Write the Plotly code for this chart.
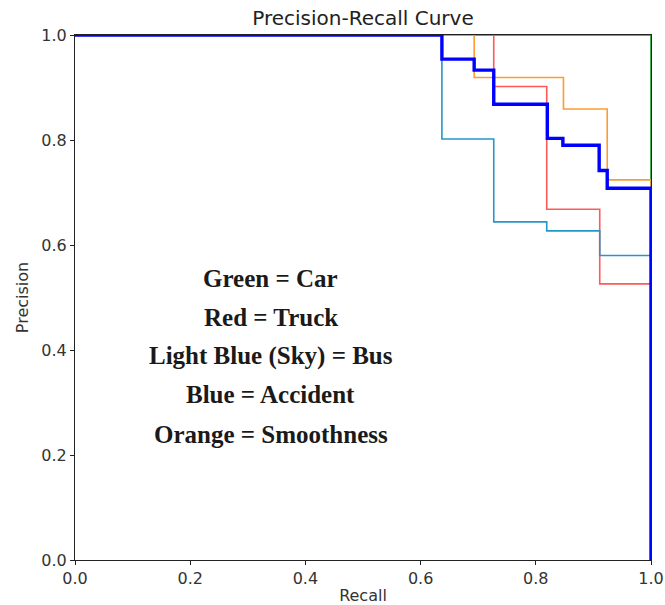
import plotly.graph_objects as go

# Step vertices (recall, precision) per class
car_recall = [0.0, 1.0, 1.0]
car_precision = [1.0, 1.0, 0.0]

truck_recall = [0.0, 0.727, 0.819, 0.911, 1.0, 1.0]
truck_precision = [1.0, 0.902, 0.668, 0.526, 0.526, 0.0]

bus_recall = [0.0, 0.637, 0.727, 0.819, 0.911, 1.0, 1.0]
bus_precision = [1.0, 0.802, 0.644, 0.627, 0.580, 0.580, 0.0]

smooth_recall = [0.0, 0.693, 0.848, 0.924, 1.0, 1.0]
smooth_precision = [1.0, 0.919, 0.859, 0.724, 0.724, 0.0]

accident_recall = [0.0, 0.637, 0.693, 0.727, 0.820, 0.847, 0.910, 0.924, 1.0, 1.0]
accident_precision = [1.0, 0.954, 0.933, 0.868, 0.803, 0.790, 0.742, 0.708, 0.708, 0.0]

legend_lines = ["Green = Car", "Red = Truck", "Light Blue (Sky) = Bus",
                "Blue = Accident", "Orange = Smoothness"]
legend_y = [0.537, 0.461, 0.389, 0.316, 0.240]

x_ticks = [0.0, 0.2, 0.4, 0.6, 0.8, 1.0]
y_ticks = [0.0, 0.2, 0.4, 0.6, 0.8, 1.0]

series = [
    ("Car", car_recall, car_precision, "#1a9a2a", 1.6),
    ("Truck", truck_recall, truck_precision, "#ff5a5a", 1.6),
    ("Bus", bus_recall, bus_precision, "#2596c8", 1.6),
    ("Smoothness", smooth_recall, smooth_precision, "#ff9a33", 1.6),
    ("Accident", accident_recall, accident_precision, "#0000ff", 3.4),
]

fig = go.Figure()
for name, r, p, c, w in series:
    fig.add_trace(go.Scatter(x=r, y=p, mode="lines", name=name,
                             line=dict(color=c, width=w, shape="hv"),
                             showlegend=False))

for txt, yy in zip(legend_lines, legend_y):
    fig.add_annotation(x=0.34, y=yy, xref="x", yref="y", text="<b>%s</b>" % txt,
                       showarrow=False, xanchor="center", yanchor="middle",
                       font=dict(family="Liberation Serif", size=25, color="#1a1a1a"))

axis_common = dict(showline=True, mirror=True, linecolor="#222", linewidth=1.2,
                   ticks="outside", ticklen=4, tickcolor="#222", showgrid=False,
                   zeroline=False, tickformat=".1f", automargin=False,
                   tickfont=dict(family="DejaVu Sans", size=16, color="#333"))

fig.update_layout(
    width=665, height=605,
    margin=dict(l=75, r=14, t=35, b=45),
    paper_bgcolor="white", plot_bgcolor="white",
    title=dict(text="Precision-Recall Curve", x=0.5, xref="paper", xanchor="center",
               y=0.970, yanchor="middle",
               font=dict(family="DejaVu Sans", size=20, color="#222")),
    xaxis=dict(range=[0, 1], tickvals=x_ticks,
               title=dict(text="Recall", standoff=3,
                          font=dict(family="DejaVu Sans", size=16, color="#333")),
               **axis_common),
    yaxis=dict(range=[0, 1], tickvals=y_ticks,
               title=dict(text="Precision", standoff=8,
                          font=dict(family="DejaVu Sans", size=16, color="#333")),
               **axis_common),
)

fig.write_html("out.html")
